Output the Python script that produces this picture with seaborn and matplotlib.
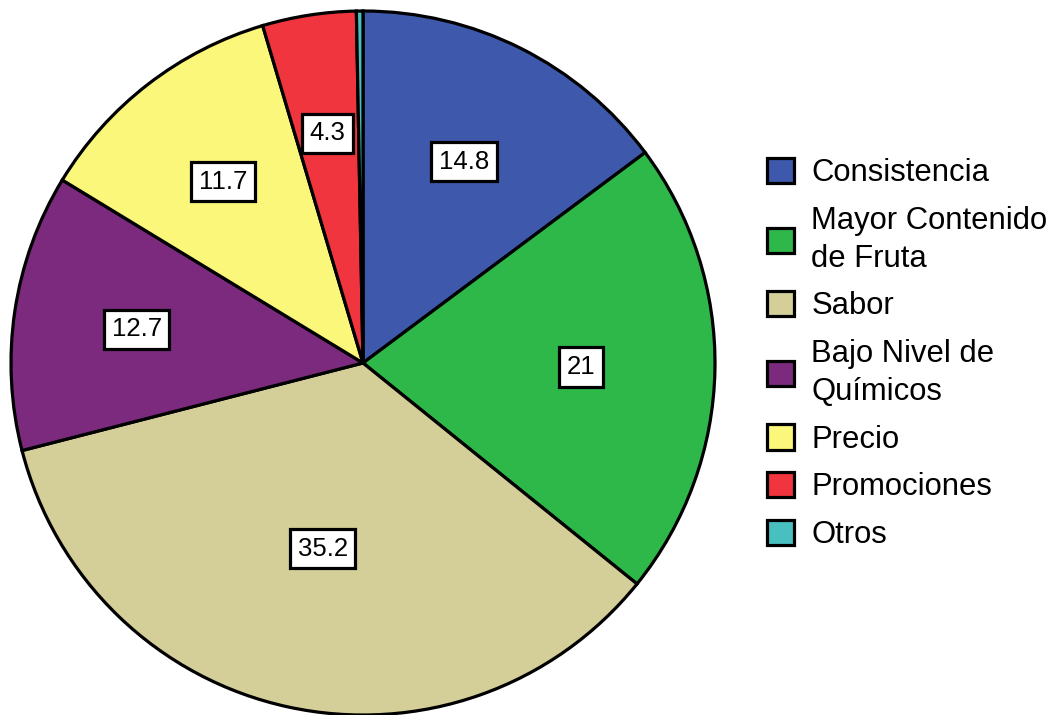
import numpy as np
import matplotlib
matplotlib.use("Agg")
import matplotlib.pyplot as plt
import seaborn as sns
from matplotlib.patches import Patch

sns.set_theme(style="white")
plt.rcParams["font.family"] = ["Liberation Sans", "DejaVu Sans"]
plt.rcParams["text.color"] = "black"

categories = ["Consistencia", "Mayor Contenido\nde Fruta", "Sabor",
              "Bajo Nivel de\nQuímicos", "Precio", "Promociones", "Otros"]
values = [14.8, 21, 35.2, 12.7, 11.7, 4.3, 0.3]
value_labels = ["14.8", "21", "35.2", "12.7", "11.7", "4.3", ""]
colors = ["#3E58AC", "#2EB84A", "#D4CE99", "#7B2A7D", "#FAF77A", "#F0353E", "#49C0C0"]
label_radius = [0.64, 0.62, 0.54, 0.65, 0.65, 0.66, 0.6]

fig = plt.figure(figsize=(10.57, 7.15), dpi=100)
ax = fig.add_axes([11 / 1057, 0.0, 704 / 1057, 704 / 715])

wedges, _ = ax.pie(values, colors=colors, startangle=90, counterclock=False,
                   radius=1.0,
                   wedgeprops=dict(edgecolor="black", linewidth=2.3))

# Boxed value labels placed along each wedge's bisector
for w, lab, r in zip(wedges, value_labels, label_radius):
    if not lab:
        continue
    mid = np.deg2rad((w.theta1 + w.theta2) / 2)
    ax.text(r * np.cos(mid), r * np.sin(mid), lab, ha="center", va="center",
            fontsize=18.5, color="black",
            bbox=dict(boxstyle="square,pad=0.3", facecolor="white",
                      edgecolor="black", linewidth=2.3))

ax.set_xlim(-1.0, 1.0)
ax.set_ylim(-1.0, 1.0)
ax.set_aspect("equal")
ax.axis("off")

handles = [Patch(facecolor=c, edgecolor="black", linewidth=2.3) for c in colors]
leg = fig.legend(handles, categories, loc="center left",
                 bbox_to_anchor=(767 / 1057, 1 - 354 / 715),
                 frameon=False, fontsize=22.3, handlelength=0.88, handleheight=0.88,
                 handletextpad=0.55, labelspacing=0.56, borderpad=0.0,
                 borderaxespad=0.0)
for t in leg.get_texts():
    t.set_color("black")
    t.set_linespacing(1.35)

fig.savefig("out.png", dpi=100, facecolor="white")
